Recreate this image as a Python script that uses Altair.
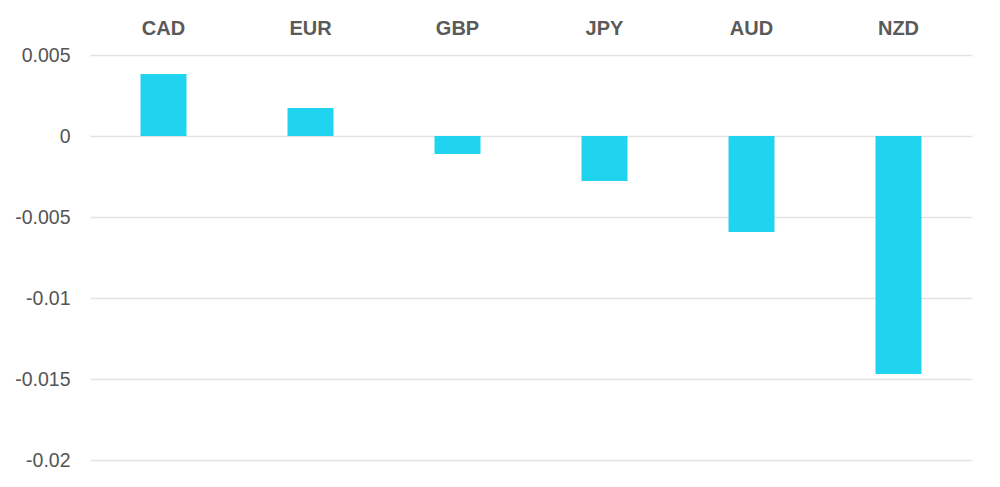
import altair as alt
import pandas as pd

currencies = ["CAD", "EUR", "GBP", "JPY", "AUD", "NZD"]
values = [0.00383, 0.00173, -0.00111, -0.00278, -0.00593, -0.01469]
y_ticks = [0.005, 0, -0.005, -0.01, -0.015, -0.02]

df = pd.DataFrame({"currency": currencies, "value": values})

chart = alt.Chart(df).mark_bar(size=46, color="#20D3EE").encode(
    x=alt.X("currency:N", sort=currencies, title=None,
            scale=alt.Scale(paddingInner=0, paddingOuter=0),
            axis=alt.Axis(orient="top", domain=False, ticks=False, labelAngle=0,
                          labelFontSize=20, labelFont="Liberation Sans", labelFontWeight="bold",
                          labelColor="#5a5a5a", labelPadding=17, grid=False)),
    y=alt.Y("value:Q", title=None,
            scale=alt.Scale(domain=[-0.02, 0.005], nice=False, zero=False),
            axis=alt.Axis(values=y_ticks, domain=False, ticks=False,
                          labelExpr="'' + datum.value",
                          labelFontSize=19.5, labelFont="Liberation Sans", labelColor="#555555",
                          labelPadding=20, gridColor="#e3e3e3", gridWidth=1.5)),
).properties(
    width=882, height=405,
    autosize=alt.AutoSizeParams(type="none"),
    padding={"left": 82, "top": 47, "right": 10, "bottom": 10},
).configure_view(stroke=None)

chart.save("out.html", embed_options={"renderer": "svg", "actions": False})
